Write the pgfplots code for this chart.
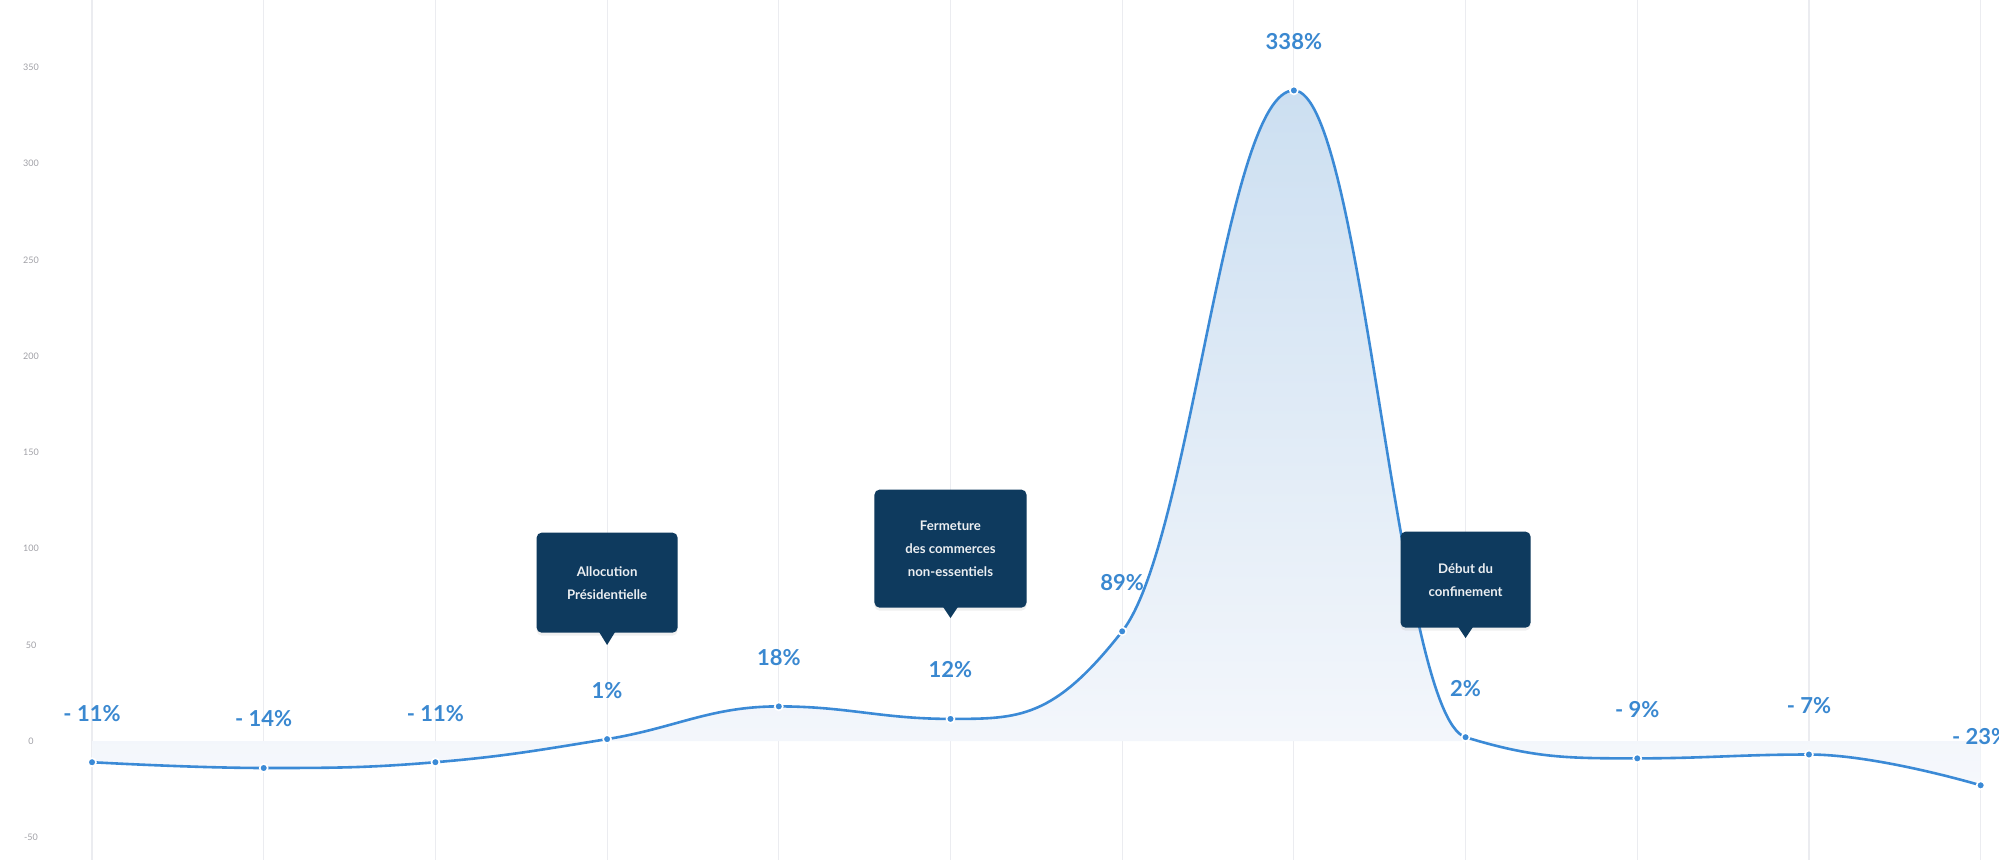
\documentclass[border=0pt]{standalone}
\usepackage{pgfplots}
\pgfplotsset{compat=1.18}
\usetikzlibrary{shadows}
\usepackage{fontspec}
\setmainfont{Lato}
\definecolor{lineblue}{HTML}{3B8AD6}
\definecolor{labelblue}{HTML}{3A88D0}
\definecolor{navy}{HTML}{0E3A5E}
\definecolor{gridgray}{HTML}{EBECF0}
\definecolor{filltop}{HTML}{CCDFF1}
\definecolor{fillbot}{HTML}{F6F8FC}
\definecolor{ticktext}{HTML}{A0A0A6}
% ---- spline plot handler (control points at 0.4 of the step, no false extremes) ----
\makeatletter
\newdimen\hc@Lx \newdimen\hc@Ly \newdimen\hc@Mx \newdimen\hc@My
\newdimen\hc@rLx \newdimen\hc@rLy \newdimen\hc@Nx \newdimen\hc@Ny
\newcount\hc@n
\def\pgfplothandlerhc{%
  \def\pgf@plotstreamstart{%
    \global\hc@n=0\relax
    \global\let\pgf@plotstreampoint=\hc@point
    \global\let\pgf@plotstreamspecial=\@gobble
    \global\let\pgf@plotstreamend=\hc@end
  }%
}
\def\hc@point#1{%
  \pgf@process{#1}%
  \global\hc@Nx=\pgf@x \global\hc@Ny=\pgf@y
  \ifcase\hc@n
    \pgf@plot@first@action{\pgfqpoint{\hc@Nx}{\hc@Ny}}%
    \global\hc@Mx=\hc@Nx \global\hc@My=\hc@Ny
    \global\hc@n=1\relax
  \or
    \global\hc@Lx=\hc@Mx \global\hc@Ly=\hc@My
    \global\hc@rLx=\hc@Mx \global\hc@rLy=\hc@My
    \global\hc@Mx=\hc@Nx \global\hc@My=\hc@Ny
    \global\hc@n=2\relax
  \else
    \hc@compute
  \fi
}
\def\hc@compute{%
  \edef\hLx{\pgf@sys@tonumber\hc@Lx}\edef\hLy{\pgf@sys@tonumber\hc@Ly}%
  \edef\hMx{\pgf@sys@tonumber\hc@Mx}\edef\hMy{\pgf@sys@tonumber\hc@My}%
  \edef\hNx{\pgf@sys@tonumber\hc@Nx}\edef\hNy{\pgf@sys@tonumber\hc@Ny}%
  \pgfmathsetmacro\hclcx{(1.5*\hMx+\hLx)/2.5}%
  \pgfmathsetmacro\hclcy{(1.5*\hMy+\hLy)/2.5}%
  \pgfmathsetmacro\hcrcx{(1.5*\hMx+\hNx)/2.5}%
  \pgfmathsetmacro\hcrcy{(1.5*\hMy+\hNy)/2.5}%
  \pgfmathsetmacro\hccorr{(\hcrcy-\hclcy)*((\hcrcx-\hMx)/(\hcrcx-\hclcx))+\hMy-\hcrcy}%
  \pgfmathsetmacro\hclcy{\hclcy+\hccorr}%
  \pgfmathsetmacro\hcrcy{\hcrcy+\hccorr}%
  \pgfmathtruncatemacro\hccase{ifthenelse(and(\hclcy>\hLy,\hclcy>\hMy),1,ifthenelse(and(\hclcy<\hLy,\hclcy<\hMy),2,0))}%
  \ifcase\hccase\or
    \pgfmathsetmacro\hclcy{max(\hLy,\hMy)}\pgfmathsetmacro\hcrcy{2*\hMy-\hclcy}%
  \or
    \pgfmathsetmacro\hclcy{min(\hLy,\hMy)}\pgfmathsetmacro\hcrcy{2*\hMy-\hclcy}%
  \fi
  \pgfmathtruncatemacro\hccase{ifthenelse(and(\hcrcy>\hNy,\hcrcy>\hMy),1,ifthenelse(and(\hcrcy<\hNy,\hcrcy<\hMy),2,0))}%
  \ifcase\hccase\or
    \pgfmathsetmacro\hcrcy{max(\hNy,\hMy)}\pgfmathsetmacro\hclcy{2*\hMy-\hcrcy}%
  \or
    \pgfmathsetmacro\hcrcy{min(\hNy,\hMy)}\pgfmathsetmacro\hclcy{2*\hMy-\hcrcy}%
  \fi
  \pgfpathcurveto{\pgfqpoint{\hc@rLx}{\hc@rLy}}{\pgfqpoint{\hclcx pt}{\hclcy pt}}{\pgfqpoint{\hc@Mx}{\hc@My}}%
  \global\hc@Lx=\hc@Mx \global\hc@Ly=\hc@My
  \global\hc@rLx=\hcrcx pt \global\hc@rLy=\hcrcy pt
  \global\hc@Mx=\hc@Nx \global\hc@My=\hc@Ny
}
\def\hc@end{%
  \ifnum\hc@n>1
    \pgfpathcurveto{\pgfqpoint{\hc@rLx}{\hc@rLy}}{\pgfqpoint{\hc@Mx}{\hc@My}}{\pgfqpoint{\hc@Mx}{\hc@My}}%
  \fi
}
\tikzset{hc spline/.code={\let\tikz@plot@handler=\pgfplothandlerhc}}
\makeatother
\begin{document}
\begin{tikzpicture}
\begin{axis}[
  scale only axis, width=999.5pt, height=430pt,
  xmin=-0.536, xmax=11.107, ymin=-61.8, ymax=385,
  axis line style={draw=none},
  major tick length=0pt,
  xtick={0,...,11}, xticklabels={},
  xmajorgrids, grid style={gridgray, line width=0.6pt},
  ytick={-50,0,50,100,150,200,250,300,350},
  yticklabel style={font=\fontsize{4.5}{5}\selectfont, text=ticktext, anchor=center, xshift=15.5pt},
  /pgf/number format/assume math mode=true,
  clip=false,
]
\addplot[draw=none, top color=filltop, bottom color=fillbot, hc spline, forget plot]
  coordinates {(0,-11) (1,-14) (2,-11) (3,1) (4,18) (5,11.5) (6,57) (7,338) (8,2) (9,-9) (10,-7) (11,-23)} \closedcycle;
\addplot[lineblue, line width=1.3pt, hc spline,
  mark=*, mark size=2pt, mark options={fill=lineblue, draw=white, line width=0.8pt},
  nodes near coords, point meta=explicit symbolic,
  nodes near coords style={font=\bfseries\fontsize{11}{12}\selectfont, text=labelblue, anchor=center, yshift=24.5pt}]
  coordinates {(0,-11)[- 11\%] (1,-14)[- 14\%] (2,-11)[- 11\%] (3,1)[1\%] (4,18)[18\%] (5,11.5)[12\%]
               (6,57)[89\%] (7,338)[338\%] (8,2)[2\%] (9,-9)[- 9\%] (10,-7)[- 7\%] (11,-23)[- 23\%]};
% callouts
\tikzset{callout/.style={fill=navy, rounded corners=2.5pt, anchor=south, inner sep=0pt, text=white!92!navy, align=center, font=\bfseries\fontsize{6.6}{11.5}\selectfont, drop shadow={opacity=0.12, shadow xshift=0pt, shadow yshift=-1.5pt}}}
\node[callout, minimum width=70.5pt, minimum height=50pt] at (axis cs:3,56.1) {Allocution\\Présidentielle};
\fill[navy] (axis cs:3,49.9) -- ++(-4pt,6.5pt) -- ++(8pt,0pt) -- cycle;
\node[callout, minimum width=76pt, minimum height=59pt] at (axis cs:5,69.1) {Fermeture\\des commerces\\non-essentiels};
\fill[navy] (axis cs:5,63.9) -- ++(-4pt,6pt) -- ++(8pt,0pt) -- cycle;
\node[callout, minimum width=65pt, minimum height=48pt] at (axis cs:8,58.7) {Début du\\confinement};
\fill[navy] (axis cs:8,53.5) -- ++(-4pt,6pt) -- ++(8pt,0pt) -- cycle;
\end{axis}
\pgfresetboundingbox
\path[use as bounding box] (current axis.south west) rectangle (current axis.north east);
\end{tikzpicture}
\end{document}
